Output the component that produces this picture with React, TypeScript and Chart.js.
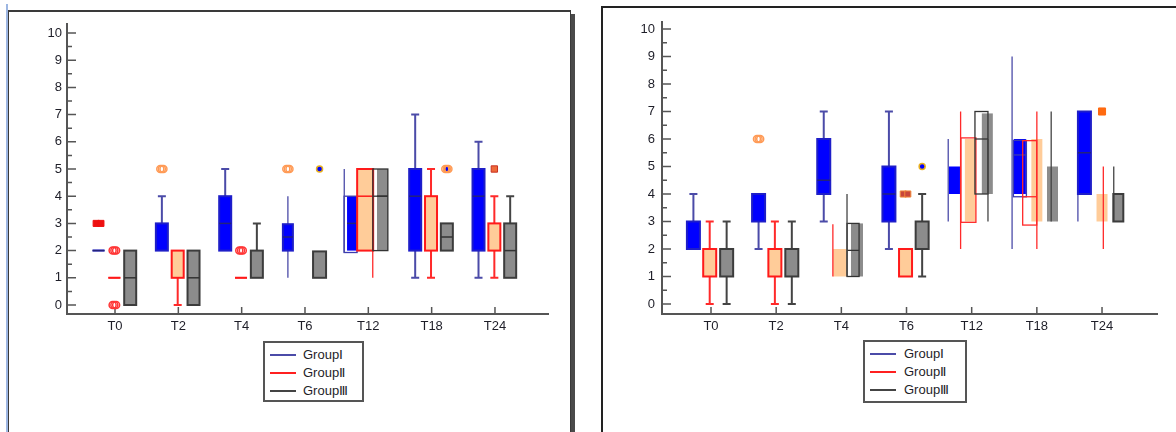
import React, { useEffect, useRef } from 'react';
import { Chart, registerables } from 'chart.js';

Chart.register(...registerables);

const categories = ['T0', 'T2', 'T4', 'T6', 'T12', 'T18', 'T24'];
const groupNames = ['GroupⅠ', 'GroupⅡ', 'GroupⅢ'];
const yTicks = [0, 1, 2, 3, 4, 5, 6, 7, 8, 9, 10];

// Box statistics per category: [low whisker, Q1, median, Q3, high whisker]
type Stat = (number | null)[] | null;

const leftGroupI: Stat[] = [
  [null, 2, 2, 2, null],
  [null, 2, null, 3, 4],
  [2, 2, 3, 4, 5],
  [1, 2, 2.5, 2.97, 4],
  [1.93, 2, 3, 4, 5],
  [1, 2, 4, 5, 7],
  [1, 2, 4, 5, 6],
];
const leftGroupII: Stat[] = [
  [null, 1, 1, 1, null],
  [0, 1, null, 2, null],
  [null, 1, 1, 1, null],
  null,
  [1, 2, 4, 5, null],
  [1, 2, null, 4, 5],
  [1, 2, null, 3, 4],
];
const leftGroupIII: Stat[] = [
  [null, 0, 1, 2, null],
  [null, 0, 1, 2, null],
  [null, 1, null, 2, 3],
  [null, 1, null, 1.97, null],
  [null, 2, 4, 5, null],
  [null, 2, 2.5, 3, null],
  [1, 1, 2, 3, 4],
];

const rightGroupI: Stat[] = [
  [null, 2, null, 3, 4],
  [2, 3, null, 4, null],
  [3, 4, 4.5, 6, 7],
  [2, 3, 4, 5, 7],
  [3, 4, null, 5, 6],
  [2, 4, null, 6, 9],
  [3, 4, 5.5, 7, null],
];
const rightGroupII: Stat[] = [
  [0, 1, null, 2, 3],
  [0, 1, null, 2, 3],
  [1, 1, null, 2, 2.9],
  [null, 1, null, 2, null],
  [2, 3, null, 6, 7],
  [2, 3, null, 6, 7],
  [2, 3, null, 4, 5],
];
const rightGroupIII: Stat[] = [
  [0, 1, null, 2, 3],
  [0, 1, null, 2, 3],
  [1, 1, null, 2.93, 4],
  [1, 2, null, 3, 4],
  [3, 4, null, 6.93, 6],
  [3, 3, null, 5, 7],
  [3, 3, null, 4, 5],
];

// Secondary (outline-only) boxes: [Q1, median, Q3]
type Outline = (number | null)[] | null;
const leftOutlineI: Outline[] = [null, null, null, null, [1.93, null, 4], null, null];
const leftOutlineII: Outline[] = [null, null, null, null, null, null, null];
const leftOutlineIII: Outline[] = [null, null, null, null, [2, 4, 5], null, null];
const rightOutlineI: Outline[] = [null, null, null, null, null, [3.9, 5.42, 5.95], null];
const rightOutlineII: Outline[] = [null, null, null, null, [2.97, null, 6.04], [2.87, 3.9, 5.94], null];
const rightOutlineIII: Outline[] = [null, null, [1, 1.95, 2.93], null, [4, 6, 7], null, null];

type Outlier = { cat: number; group: number; value: number; count: number; kind: string };
const leftOutliers: Outlier[] = [
  { cat: 0, group: 0, value: 3, count: 2, kind: 'redSquare' },
  { cat: 0, group: 1, value: 2, count: 3, kind: 'redCircle' },
  { cat: 0, group: 1, value: 0, count: 3, kind: 'redCircle' },
  { cat: 1, group: 0, value: 5, count: 3, kind: 'orangeCircle' },
  { cat: 2, group: 1, value: 2, count: 3, kind: 'redCircle' },
  { cat: 3, group: 0, value: 5, count: 3, kind: 'orangeCircle' },
  { cat: 3, group: 2, value: 5, count: 1, kind: 'blueDot' },
  { cat: 5, group: 2, value: 5, count: 3, kind: 'orangeCircle' },
  { cat: 5, group: 2, value: 5, count: 1, kind: 'blueDot' },
  { cat: 6, group: 1, value: 5, count: 1, kind: 'orangeSquare' },
];
const rightOutliers: Outlier[] = [
  { cat: 1, group: 0, value: 6, count: 3, kind: 'orangeCircle' },
  { cat: 3, group: 1, value: 4, count: 2, kind: 'brownSquare' },
  { cat: 3, group: 2, value: 5, count: 1, kind: 'blueDot' },
  { cat: 6, group: 1, value: 7, count: 1, kind: 'brightSquare' },
];

// ---------- layout & style (kept apart from the data) ----------
type BoxLayout = { dx?: number; w?: number; border?: boolean; caps?: boolean; wx?: number; line?: boolean; odx?: number; ow?: number };

const leftLayout = {
  dx: [-0.26, -0.01, 0.24], w: 12,
  over: {
    '0-3': { dx: -0.27, w: 10, caps: false },
    '0-4': { dx: -0.257, w: 10, border: false, line: true, wx: -0.38, odx: -0.28, ow: 13 },
    '1-4': { dx: -0.05, w: 16, caps: false, wx: 0.07 },
    '2-4': { dx: 0.224, w: 11, border: false, odx: 0.19, ow: 15 },
    '2-3': { dx: 0.23, w: 13 },
  } as Record<string, BoxLayout>,
  xMin: -0.758, xMax: 6.853, yMin: -0.331, yMax: 10.368,
  axisW: 67, padRight: 21, padTop: 23, tickPad: 5, canvasW: 570,
};
const rightLayout = {
  dx: [-0.27, -0.02, 0.24], w: 13,
  over: {
    '1-2': { dx: -0.02, w: 14, border: false, line: true, wx: -0.13 },
    '2-2': { dx: 0.24, w: 12, border: false, line: true, wx: 0.087, odx: 0.18, ow: 12 },
    '1-3': { dx: -0.015 },
    '0-4': { dx: -0.264, w: 11, border: false, line: true, wx: -0.36 },
    '1-4': { dx: -0.02, w: 11, border: false, line: true, wx: -0.17, odx: -0.05, ow: 15 },
    '2-4': { dx: 0.24, w: 11, border: false, line: true, wx: 0.25, odx: 0.15, ow: 13 },
    '0-5': { dx: -0.26, w: 12, border: false, line: true, wx: -0.38, odx: -0.26, ow: 13 },
    '1-5': { dx: 0, w: 11, border: false, line: true, wx: 0, odx: -0.11, ow: 14 },
    '2-5': { dx: 0.24, w: 11, border: false, line: true, wx: 0.22 },
    '0-6': { dx: -0.27, w: 13, caps: false, wx: -0.37 },
    '1-6': { dx: 0, w: 11, border: false, line: true, wx: 0.02 },
    '2-6': { dx: 0.25, w: 10, line: true, wx: 0.18 },
  } as Record<string, BoxLayout>,
  xMin: -0.752, xMax: 6.859, yMin: -0.364, yMax: 10.291,
  axisW: 58, padRight: 18, padTop: 21, tickPad: 7, canvasW: 572,
};

const groupStyle = [
  { fill: '#0000ff', border: '#1e1ec8', whisker: '#4b4ba8', median: '#23237c', outline: '#3b3bb0' },
  { fill: '#ffcc99', border: '#ff1a1a', whisker: '#ff2a2a', median: '#ff1a1a', outline: '#ff2a2a' },
  { fill: '#8c8c8c', border: '#3c3c3c', whisker: '#444444', median: '#333333', outline: '#333333' },
];

const markerStyles: Record<string, any> = {
  redCircle: { pointStyle: 'circle', radius: 3.5, bg: 'rgba(255,255,255,0)', border: '#ff3535', bw: 1.5, sp: 0.028 },
  orangeCircle: { pointStyle: 'circle', radius: 3.5, bg: 'rgba(255,255,255,0)', border: '#ff9a55', bw: 1.5, sp: 0.025 },
  blueDot: { pointStyle: 'circle', radius: 3, bg: '#0000ff', border: '#e8b020', bw: 1.5, sp: 0 },
  redSquare: { pointStyle: 'rect', radius: 4.3, bg: '#ee1010', border: '#ee1010', bw: 1, sp: 0.075 },
  brownSquare: { pointStyle: 'rect', radius: 4.3, bg: '#c8463a', border: '#f0883a', bw: 1, sp: 0.07 },
  orangeSquare: { pointStyle: 'rect', radius: 4.5, bg: '#ee6a3a', border: '#c83020', bw: 1, sp: 0 },
  brightSquare: { pointStyle: 'rect', radius: 5, bg: '#ff6a10', border: '#ff6a10', bw: 1, sp: 0 },
};

const FONT = "'Liberation Sans', Arial, sans-serif";

type Panel = {
  groups: Stat[][];
  outlines: Outline[][];
  outliers: Outlier[];
  layout: typeof leftLayout;
};

const leftPanel: Panel = {
  groups: [leftGroupI, leftGroupII, leftGroupIII],
  outlines: [leftOutlineI, leftOutlineII, leftOutlineIII],
  outliers: leftOutliers,
  layout: leftLayout,
};
const rightPanel: Panel = {
  groups: [rightGroupI, rightGroupII, rightGroupIII],
  outlines: [rightOutlineI, rightOutlineII, rightOutlineIII],
  outliers: rightOutliers,
  layout: rightLayout,
};

function boxLayout(panel: Panel, g: number, c: number) {
  return {
    dx: panel.layout.dx[g], w: panel.layout.w, border: true, caps: true, line: false,
    ...(panel.layout.over[`${g}-${c}`] || {}),
  } as Required<Omit<BoxLayout, 'wx' | 'odx' | 'ow'>> & BoxLayout;
}

function drawPanel(chart: any, panel: Panel) {
  const { ctx, chartArea: a, scales } = chart;
  const xs = scales.x, ys = scales.y;
  ctx.save();
  // axes
  ctx.strokeStyle = '#555555';
  ctx.lineWidth = 2;
  ctx.beginPath();
  ctx.moveTo(a.left, a.top);
  ctx.lineTo(a.left, a.bottom + 1);
  ctx.moveTo(a.left - 1, a.bottom);
  ctx.lineTo(a.right, a.bottom);
  ctx.stroke();
  ctx.lineWidth = 1.5;
  ctx.beginPath();
  yTicks.forEach((v) => {
    const y = ys.getPixelForValue(v);
    ctx.moveTo(a.left, y);
    ctx.lineTo(a.left + 9, y);
    if (v < 10) {
      const y2 = ys.getPixelForValue(v + 0.5);
      ctx.moveTo(a.left, y2);
      ctx.lineTo(a.left + 5, y2);
    }
  });
  categories.forEach((_, i) => {
    const x = xs.getPixelForValue(i);
    ctx.moveTo(x, a.bottom);
    ctx.lineTo(x, a.bottom - 7);
  });
  ctx.stroke();

  panel.groups.forEach((stats, g) => {
    const st = groupStyle[g];
    stats.forEach((s, c) => {
      if (!s) return;
      const L = boxLayout(panel, g, c);
      const [lo, q1, med, q3, hi] = s as (number | null)[];
      const cx = xs.getPixelForValue(c + L.dx);
      const wx = xs.getPixelForValue(c + (L.wx ?? L.dx));
      const yq1 = ys.getPixelForValue(q1 as number);
      const yq3 = ys.getPixelForValue(q3 as number);
      const x1 = cx - L.w / 2;
      // fill
      ctx.fillStyle = st.fill;
      ctx.fillRect(x1, yq3, L.w, yq1 - yq3);
      // secondary outline box
      const o = panel.outlines[g][c];
      if (o) {
        const ocx = xs.getPixelForValue(c + (L.odx ?? L.dx));
        const ow = L.ow ?? L.w;
        const oy1 = ys.getPixelForValue(o[0] as number);
        const oy3 = ys.getPixelForValue(o[2] as number);
        ctx.strokeStyle = st.outline;
        ctx.lineWidth = 1.3;
        ctx.strokeRect(ocx - ow / 2, oy3, ow, oy1 - oy3);
        if (o[1] != null) {
          const om = ys.getPixelForValue(o[1]);
          ctx.beginPath();
          ctx.moveTo(ocx - ow / 2, om);
          ctx.lineTo(ocx + ow / 2, om);
          ctx.stroke();
        }
      }
      // whiskers
      ctx.strokeStyle = st.whisker;
      if (L.line) {
        const top = hi ?? q3;
        const bot = lo ?? q1;
        if (hi != null || lo != null) {
          ctx.lineWidth = 1.3;
          ctx.beginPath();
          ctx.moveTo(wx, ys.getPixelForValue(bot as number));
          ctx.lineTo(wx, ys.getPixelForValue(top as number));
          ctx.stroke();
        }
      } else {
        ctx.lineWidth = L.caps ? 2 : 1.3;
        ctx.beginPath();
        if (lo != null && lo < (q1 as number)) {
          const yl = ys.getPixelForValue(lo);
          ctx.moveTo(wx, yq1);
          ctx.lineTo(wx, yl);
          if (L.caps) { ctx.moveTo(wx - 4, yl); ctx.lineTo(wx + 4, yl); }
        }
        if (hi != null && hi > (q3 as number)) {
          const yh = ys.getPixelForValue(hi);
          ctx.moveTo(wx, yq3);
          ctx.lineTo(wx, yh);
          if (L.caps) { ctx.moveTo(wx - 4, yh); ctx.lineTo(wx + 4, yh); }
        }
        ctx.stroke();
      }
      // border
      if (L.border) {
        ctx.strokeStyle = st.border;
        ctx.lineWidth = 2;
        ctx.strokeRect(x1, yq3, L.w, yq1 - yq3);
      }
      // median
      if (med != null) {
        const ym = ys.getPixelForValue(med);
        ctx.strokeStyle = st.median;
        ctx.lineWidth = 1.5;
        ctx.beginPath();
        ctx.moveTo(x1, ym);
        ctx.lineTo(x1 + L.w, ym);
        ctx.stroke();
      }
    });
  });
  ctx.restore();
}

function outlierDatasets(panel: Panel) {
  return panel.outliers.map((o) => {
    const m = markerStyles[o.kind];
    const L = boxLayout(panel, o.group, o.cat);
    const pts = [] as { x: number; y: number }[];
    for (let i = 0; i < o.count; i++) {
      pts.push({ x: o.cat + L.dx + (i - (o.count - 1) / 2) * m.sp, y: o.value });
    }
    return {
      type: 'scatter' as const,
      data: pts,
      pointStyle: m.pointStyle,
      pointRadius: m.radius,
      pointBackgroundColor: m.bg,
      pointBorderColor: m.border,
      pointBorderWidth: m.bw,
      showLine: false,
    };
  });
}

function BoxChart({ panel, left }: { panel: Panel; left: number }) {
  const ref = useRef<HTMLCanvasElement | null>(null);
  useEffect(() => {
    if (!ref.current) return;
    const lay = panel.layout;
    const chart = new Chart(ref.current, {
      type: 'scatter',
      data: { datasets: outlierDatasets(panel) as any },
      options: {
        animation: false,
        responsive: false,
        devicePixelRatio: 1,
        events: [],
        layout: { padding: { left: 0, right: lay.padRight, top: lay.padTop, bottom: 88 } },
        plugins: { legend: { display: false }, tooltip: { enabled: false } },
        scales: {
          x: {
            type: 'linear',
            min: lay.xMin,
            max: lay.xMax,
            grid: { display: false, drawTicks: false },
            border: { display: false },
            afterBuildTicks: (s: any) => { s.ticks = categories.map((_, i) => ({ value: i })); },
            afterFit: (s: any) => { s.height = 30; },
            ticks: {
              autoSkip: false,
              maxRotation: 0,
              padding: 5,
              color: '#1e1e28',
              font: { family: FONT, size: 13 },
              callback: (v: any) => categories[v as number] ?? '',
            },
          },
          y: {
            type: 'linear',
            min: lay.yMin,
            max: lay.yMax,
            grid: { display: false, drawTicks: false },
            border: { display: false },
            afterBuildTicks: (s: any) => { s.ticks = yTicks.map((v) => ({ value: v })); },
            afterFit: (s: any) => { s.width = lay.axisW; },
            ticks: {
              padding: lay.tickPad,
              color: '#1e1e28',
              font: { family: FONT, size: 13 },
              callback: (v: any) => String(v),
            },
          },
        },
      },
      plugins: [{ id: 'boxes', beforeDatasetsDraw: (c: any) => drawPanel(c, panel) }],
    });
    return () => chart.destroy();
  }, [panel]);
  return (
    <canvas
      ref={ref}
      width={panel.layout.canvasW}
      height={432}
      style={{ position: 'absolute', left, top: 0, width: panel.layout.canvasW, height: 432 }}
    />
  );
}

const legendColors = ['#4b4ba8', '#ff2020', '#444444'];

function Legend({ left, top, width, height, lineX, textX }: { left: number; top: number; width: number; height: number; lineX: number; textX: number }) {
  return (
    <div style={{ position: 'absolute', left, top, width, height, boxSizing: 'border-box', border: '2px solid #555', background: '#fff' }}>
      {groupNames.map((n, i) => (
        <div key={n} style={{ position: 'absolute', left: 0, top: 3 + i * 18, height: 18, width: '100%' }}>
          <div style={{ position: 'absolute', left: lineX, top: 8, width: 26, height: 2, background: legendColors[i] }} />
          <div style={{ position: 'absolute', left: textX, top: 0, lineHeight: '18px', fontFamily: FONT, fontSize: 13, color: '#1e1e28', whiteSpace: 'nowrap' }}>{n}</div>
        </div>
      ))}
    </div>
  );
}

export default function App() {
  return (
    <div style={{ position: 'fixed', left: 0, top: 0, width: 1176, height: 432, background: '#fff', overflow: 'hidden' }}>
      {/* left panel frame */}
      <div style={{ position: 'absolute', left: 6, top: 4, width: 2, height: 428, background: '#9db6e2' }} />
      <div style={{ position: 'absolute', left: 8, top: 10, width: 563, height: 430, boxSizing: 'border-box', borderTop: '2px solid #3a3a3a', borderLeft: '1.5px solid #3a3a3a', borderRight: '1.5px solid #3a3a3a' }} />
      <div style={{ position: 'absolute', left: 571, top: 14, width: 4, height: 418, background: '#4a4a4a' }} />
      {/* right panel frame */}
      <div style={{ position: 'absolute', left: 601, top: 6, width: 580, height: 430, boxSizing: 'border-box', borderTop: '2px solid #222', borderLeft: '2px solid #222' }} />
      <BoxChart panel={leftPanel} left={0} />
      <BoxChart panel={rightPanel} left={604} />
      <Legend left={263} top={341} width={101} height={61} lineX={5} textX={38} />
      <Legend left={863} top={340} width={104} height={63} lineX={5} textX={39} />
    </div>
  );
}
